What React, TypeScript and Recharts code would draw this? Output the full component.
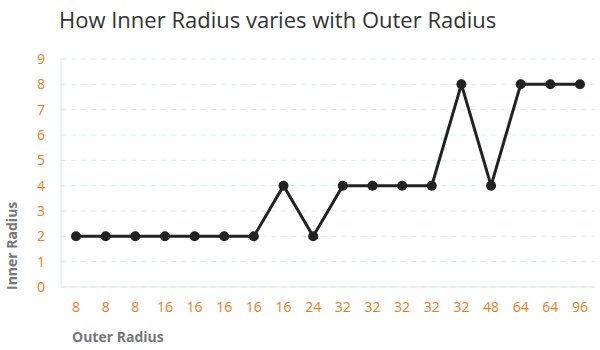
import React from 'react';
import { LineChart, Line, XAxis, YAxis, CartesianGrid, Label } from 'recharts';

const outerRadius = ['8', '8', '8', '16', '16', '16', '16', '16', '24', '32', '32', '32', '32', '32', '48', '64', '64', '96'];
const innerRadius = [2, 2, 2, 2, 2, 2, 2, 4, 2, 4, 4, 4, 4, 8, 4, 8, 8, 8];
const yTicks = [0, 1, 2, 3, 4, 5, 6, 7, 8, 9];

const data = outerRadius.map((o, i) => ({ idx: i, outer: o, inner: innerRadius[i] }));

const FONT = '"Open Sans", "Noto Sans", sans-serif';
const TICK = { fill: '#ee7a22', fontSize: 14, fontFamily: FONT };
const AXIS_LINE = { stroke: '#dbe8ee' };

export default function App() {
  return (
    <div style={{ position: 'absolute', left: 0, top: 0, width: 600, height: 350, background: '#fff', fontFamily: FONT }}>
      <div style={{ position: 'absolute', left: 59, top: 4, fontSize: 22, color: '#333', whiteSpace: 'nowrap' }}>
        How Inner Radius varies with Outer Radius
      </div>
      <LineChart width={600} height={350} data={data} margin={{ top: 59, right: 5, bottom: 33, left: 0 }}>
        <CartesianGrid vertical={false} stroke="#d6edf2" strokeDasharray="5 5" />
        <XAxis
          dataKey="idx"
          tickFormatter={(v: number) => outerRadius[v]}
          tick={TICK}
          tickLine={false}
          tickSize={0}
          tickMargin={15}
          axisLine={AXIS_LINE}
          interval={0}
          padding={{ left: 15, right: 15 }}
        >
          <Label
            content={() => (
              <text x={72} y={342} fill="#777" fontSize={14} fontWeight="bold" fontFamily={FONT}>
                Outer Radius
              </text>
            )}
          />
        </XAxis>
        <YAxis
          width={61}
          domain={[0, 9]}
          ticks={yTicks}
          interval={0}
          tick={TICK}
          tickLine={false}
          tickSize={0}
          tickMargin={16}
          axisLine={AXIS_LINE}
        >
          <Label
            content={() => (
              <text
                x={17}
                y={290}
                transform="rotate(-90 17 290)"
                fill="#777"
                fontSize={14}
                fontWeight="bold"
                fontFamily={FONT}
              >
                Inner Radius
              </text>
            )}
          />
        </YAxis>
        <Line
          type="linear"
          dataKey="inner"
          stroke="#222"
          strokeWidth={3}
          dot={{ r: 5, fill: '#222', stroke: '#222', strokeWidth: 0 }}
          isAnimationActive={false}
        />
      </LineChart>
    </div>
  );
}
